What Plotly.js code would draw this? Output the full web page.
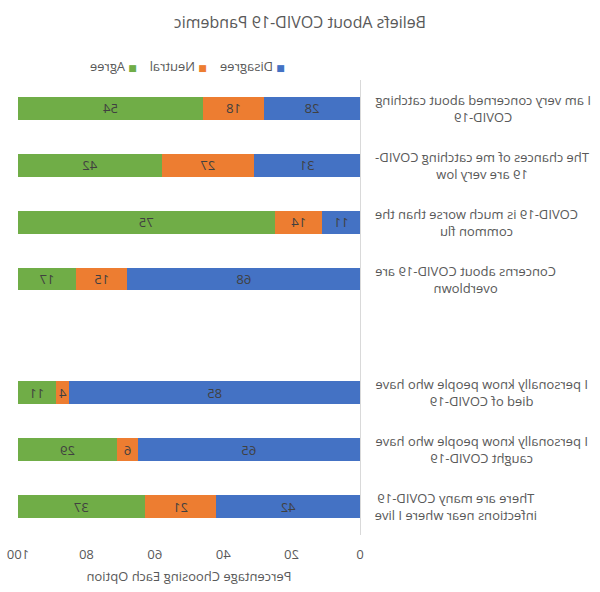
<!DOCTYPE html>
<html>
<head>
<meta charset="utf-8">
<script src="https://cdn.plot.ly/plotly-3.0.1.min.js"></script>
<style>
  html, body { margin: 0; padding: 0; background: #fff; }
  #chart { width: 600px; height: 592px; transform: scaleX(-1); outline: 1px solid #d9d9d9; outline-offset: -1px; }
</style>
</head>
<body>
<div id="chart"></div>
<script>
const categories = [
  "I am very concerned about catching<br>COVID-19",
  "The chances of me catching COVID-<br>19 are very low",
  "COVID-19 is much worse than the<br>common flu",
  "Concerns about COVID-19 are<br>overblown",
  " ",
  "I personally know people who have<br>died of COVID-19",
  "I personally know people who have<br>caught COVID-19",
  "There are many COVID-19<br>infections near where I live"
];
const disagree = [28, 31, 11, 68, null, 85, 65, 42];
const neutral  = [18, 27, 14, 15, null, 4, 6, 21];
const agree    = [54, 42, 75, 17, null, 11, 29, 37];
const seriesNames = ["Disagree", "Neutral", "Agree"];
const xTicks = [0, 20, 40, 60, 80, 100];

const colors = ["#4472C4", "#ED7D31", "#70AD47"];
const textColor = "#595959";
const font = "Open Sans, Roboto, Arial, sans-serif";

const seriesValues = [disagree, neutral, agree];
const traces = seriesValues.map((vals, i) => ({
  type: "bar",
  orientation: "h",
  name: seriesNames[i],
  y: categories,
  x: vals,
  marker: { color: colors[i], line: { width: 0 } },
  texttemplate: "%{x}",
  textposition: "inside",
  insidetextanchor: "middle",
  textangle: 0,
  constraintext: "none",
  textfont: { color: "#404040", size: 13, family: font },
  hoverinfo: "skip",
  showlegend: false
}));

const labelAnnotations = categories.filter(c => c.trim() !== "").map(c => ({
  xref: "paper", yref: "y",
  x: -0.038, y: c,
  xanchor: "right", yanchor: "middle",
  align: "center",
  text: c,
  showarrow: false,
  font: { size: 13, color: textColor, family: font }
}));

// legend entries (square + name), positioned in paper space
const legendX = [0.2135, 0.4415, 0.646];
const legendAnnotations = seriesNames.map((n, i) => ({
  xref: "paper", yref: "paper",
  x: legendX[i], y: 1 + 14 / 455,
  xanchor: "left", yanchor: "middle",
  text: '<span style="color:' + colors[i] + ';font-size:9px;font-family:DejaVu Sans">■</span> ' + n,
  showarrow: false,
  font: { size: 13, color: textColor, family: font }
}));

const layout = {
  width: 600, height: 592,
  margin: { l: 240, r: 18, t: 80, b: 57, pad: 0, autoexpand: false },
  paper_bgcolor: "#fff", plot_bgcolor: "#fff",
  font: { family: font, color: textColor, size: 13 },
  barmode: "stack",
  bargap: 0.6,
  title: {
    text: "Beliefs About COVID-19 Pandemic",
    font: { size: 16, color: textColor, family: font },
    x: 0.5, xref: "container", xanchor: "center",
    y: 1 - 22 / 592, yref: "container", yanchor: "middle"
  },
  showlegend: false,
  xaxis: {
    range: [0, 100],
    tickvals: xTicks,
    ticktext: xTicks.map(String),
    showgrid: false, zeroline: false, showline: false,
    ticks: "",
    ticklabelstandoff: 10,
    tickfont: { size: 13, color: textColor, family: font },
    title: { text: "Percentage Choosing Each Option", font: { size: 13, color: textColor, family: font }, standoff: 9 },
    fixedrange: true
  },
  yaxis: {
    type: "category",
    categoryorder: "array",
    categoryarray: categories,
    autorange: "reversed",
    showticklabels: false,
    showgrid: false, zeroline: false,
    showline: true, linecolor: "#d9d9d9", linewidth: 1,
    ticks: "",
    fixedrange: true
  },
  annotations: labelAnnotations.concat(legendAnnotations)
};

Plotly.newPlot("chart", traces, layout, { displayModeBar: false, staticPlot: true });
</script>
</body>
</html>
